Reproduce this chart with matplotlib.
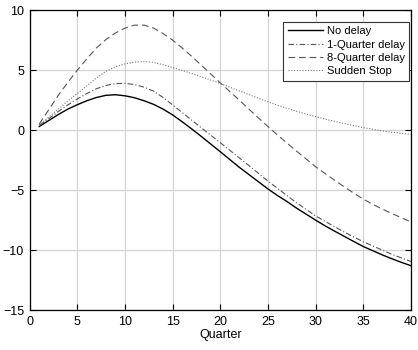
import numpy as np
import matplotlib
matplotlib.use("Agg")
import matplotlib.pyplot as plt

plt.rcParams['font.family'] = ['Liberation Sans', 'DejaVu Sans']

quarters = np.arange(1, 41)

no_delay = [0.30, 0.80, 1.30, 1.75, 2.12, 2.45, 2.72, 2.90, 2.95, 2.86,
            2.70, 2.45, 2.15, 1.75, 1.27, 0.70, 0.10, -0.52, -1.16, -1.80,
            -2.45, -3.10, -3.70, -4.30, -4.90, -5.45, -5.95, -6.50, -7.00, -7.50,
            -7.98, -8.42, -8.85, -9.28, -9.70, -10.05, -10.40, -10.72, -11.02, -11.30]

one_q_delay = [0.40, 0.95, 1.55, 2.10, 2.60, 3.05, 3.45, 3.72, 3.88, 3.90,
               3.80, 3.58, 3.25, 2.72, 2.10, 1.47, 0.83, 0.20, -0.42, -1.05,
               -1.68, -2.32, -2.95, -3.60, -4.25, -4.85, -5.45, -6.05, -6.60, -7.15,
               -7.60, -8.05, -8.50, -8.90, -9.30, -9.65, -10.00, -10.35, -10.65, -10.95]

eight_q_delay = [0.50, 1.70, 2.90, 3.98, 5.00, 5.95, 6.85, 7.55, 8.10, 8.50,
                 8.75, 8.75, 8.50, 8.05, 7.50, 6.85, 6.15, 5.42, 4.68, 3.94,
                 3.22, 2.50, 1.75, 1.02, 0.30, -0.40, -1.08, -1.75, -2.40, -3.05,
                 -3.62, -4.18, -4.72, -5.25, -5.75, -6.18, -6.58, -6.95, -7.30, -7.65]

sudden_stop = [0.40, 1.10, 1.75, 2.42, 3.05, 3.70, 4.35, 4.90, 5.28, 5.52,
               5.67, 5.72, 5.64, 5.45, 5.22, 4.98, 4.72, 4.45, 4.17, 3.89,
               3.58, 3.27, 2.96, 2.66, 2.36, 2.08, 1.82, 1.57, 1.34, 1.12,
               0.92, 0.73, 0.55, 0.37, 0.21, 0.07, -0.06, -0.17, -0.27, -0.36]

labels = ['No delay', '1-Quarter delay', '8-Quarter delay', 'Sudden Stop']

fig = plt.figure(figsize=(4.18, 3.5), dpi=100)
ax = fig.add_axes([0.071, 0.114, 0.912, 0.857])

ax.plot(quarters, no_delay, color='black', lw=1.0, label=labels[0])
ax.plot(quarters, one_q_delay, color='#555555', lw=0.8, dashes=(5, 2, 1, 2), label=labels[1])
ax.plot(quarters, eight_q_delay, color='#555555', lw=0.8, dashes=(6, 3.5), label=labels[2])
ax.plot(quarters, sudden_stop, color='#777777', lw=0.8, dashes=(1, 1.5), label=labels[3])

ax.set_xlim(0, 40)
ax.set_ylim(-15, 10)
ax.set_xticks(range(0, 41, 5))
ax.set_yticks(range(-15, 11, 5))
ax.grid(True, color='#d4d4d4', lw=0.9)
ax.set_axisbelow(True)
ax.tick_params(direction='in', top=True, right=True, length=4, width=0.8,
               labelsize=9, pad=4)
for s in ax.spines.values():
    s.set_linewidth(0.9)
ax.set_xlabel('Quarter', fontsize=9, labelpad=1)

leg = ax.legend(loc='upper right', bbox_to_anchor=(0.9955, 0.961), borderaxespad=0,
                fontsize=8, handlelength=3.2, handletextpad=0.3, labelspacing=0.3,
                borderpad=0.4, fancybox=False, framealpha=1, edgecolor='#333333')
leg.get_frame().set_linewidth(0.8)

fig.savefig('out.png', dpi=100)
